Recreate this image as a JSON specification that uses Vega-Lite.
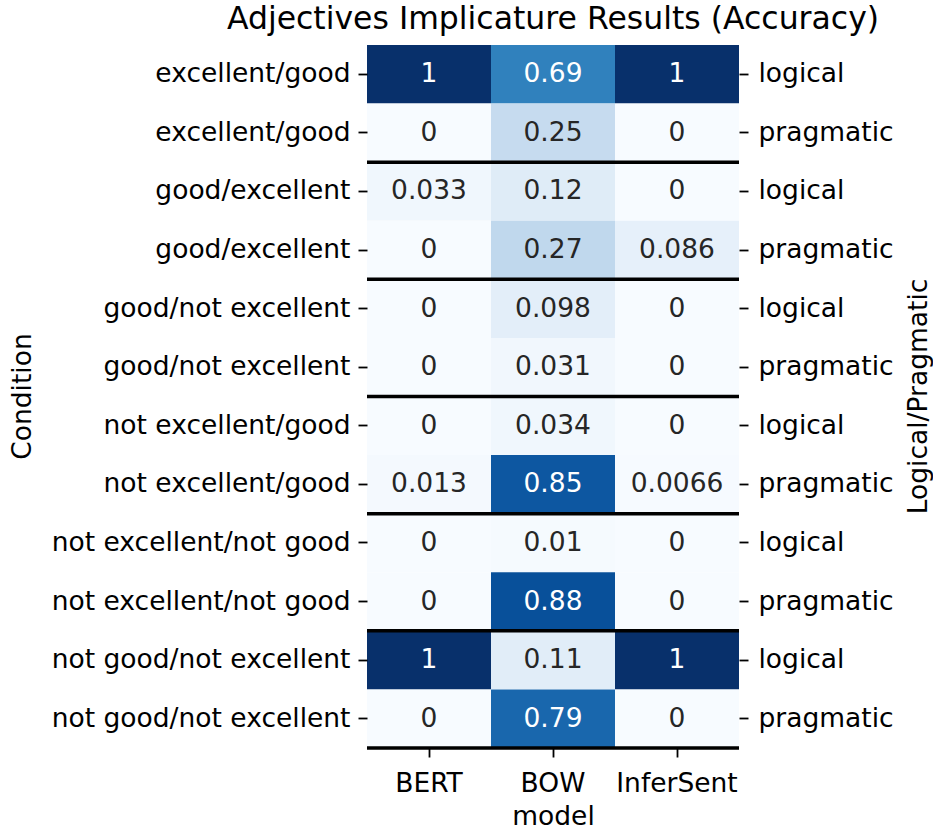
{
  "$schema": "https://vega.github.io/schema/vega-lite/v6.json",
  "autosize": {"type": "none"},
  "padding": {"left": 367, "top": 45, "right": 194, "bottom": 83},
  "width": 372,
  "height": 703,
  "background": "white",
  "config": {
    "font": "DejaVu Sans",
    "view": {"stroke": null},
    "axis": {"labelFont": "DejaVu Sans", "titleFont": "DejaVu Sans", "labelFontSize": 26.5, "titleFontSize": 26.5, "labelColor": "#000000", "titleColor": "#000000", "titleFontWeight": "normal", "tickColor": "#000000", "tickWidth": 1.8, "tickSize": 9, "domain": false, "grid": false, "labelLimit": 500}
  },
  "title": {"text": "Adjectives Implicature Results (Accuracy)", "font": "DejaVu Sans", "fontSize": 31.5, "fontWeight": "normal", "color": "#000000", "offset": 10},
  "datasets": {
    "cells": [
      {"key": "excellent/good|logical", "model": "BERT", "value": 1},
      {"key": "excellent/good|logical", "model": "BOW", "value": 0.69},
      {"key": "excellent/good|logical", "model": "InferSent", "value": 1},
      {"key": "excellent/good|pragmatic", "model": "BERT", "value": 0},
      {"key": "excellent/good|pragmatic", "model": "BOW", "value": 0.25},
      {"key": "excellent/good|pragmatic", "model": "InferSent", "value": 0},
      {"key": "good/excellent|logical", "model": "BERT", "value": 0.033},
      {"key": "good/excellent|logical", "model": "BOW", "value": 0.12},
      {"key": "good/excellent|logical", "model": "InferSent", "value": 0},
      {"key": "good/excellent|pragmatic", "model": "BERT", "value": 0},
      {"key": "good/excellent|pragmatic", "model": "BOW", "value": 0.27},
      {"key": "good/excellent|pragmatic", "model": "InferSent", "value": 0.086},
      {"key": "good/not excellent|logical", "model": "BERT", "value": 0},
      {"key": "good/not excellent|logical", "model": "BOW", "value": 0.098},
      {"key": "good/not excellent|logical", "model": "InferSent", "value": 0},
      {"key": "good/not excellent|pragmatic", "model": "BERT", "value": 0},
      {"key": "good/not excellent|pragmatic", "model": "BOW", "value": 0.031},
      {"key": "good/not excellent|pragmatic", "model": "InferSent", "value": 0},
      {"key": "not excellent/good|logical", "model": "BERT", "value": 0},
      {"key": "not excellent/good|logical", "model": "BOW", "value": 0.034},
      {"key": "not excellent/good|logical", "model": "InferSent", "value": 0},
      {"key": "not excellent/good|pragmatic", "model": "BERT", "value": 0.013},
      {"key": "not excellent/good|pragmatic", "model": "BOW", "value": 0.85},
      {"key": "not excellent/good|pragmatic", "model": "InferSent", "value": 0.0066},
      {"key": "not excellent/not good|logical", "model": "BERT", "value": 0},
      {"key": "not excellent/not good|logical", "model": "BOW", "value": 0.01},
      {"key": "not excellent/not good|logical", "model": "InferSent", "value": 0},
      {"key": "not excellent/not good|pragmatic", "model": "BERT", "value": 0},
      {"key": "not excellent/not good|pragmatic", "model": "BOW", "value": 0.88},
      {"key": "not excellent/not good|pragmatic", "model": "InferSent", "value": 0},
      {"key": "not good/not excellent|logical", "model": "BERT", "value": 1},
      {"key": "not good/not excellent|logical", "model": "BOW", "value": 0.11},
      {"key": "not good/not excellent|logical", "model": "InferSent", "value": 1},
      {"key": "not good/not excellent|pragmatic", "model": "BERT", "value": 0},
      {"key": "not good/not excellent|pragmatic", "model": "BOW", "value": 0.79},
      {"key": "not good/not excellent|pragmatic", "model": "InferSent", "value": 0}
    ],
    "separators": [
      {"key": "excellent/good|pragmatic"},
      {"key": "good/excellent|pragmatic"},
      {"key": "good/not excellent|pragmatic"},
      {"key": "not excellent/good|pragmatic"},
      {"key": "not excellent/not good|pragmatic"},
      {"key": "not good/not excellent|pragmatic"}
    ]
  },
  "layer": [
    {
      "data": {"name": "cells"},
      "mark": {"type": "rect"},
      "encoding": {
        "x": {"field": "model", "type": "nominal", "sort": ["BERT", "BOW", "InferSent"], "scale": {"paddingInner": 0, "paddingOuter": 0},
              "axis": {"orient": "bottom", "title": "model", "labelAngle": 0, "labelPadding": 13, "titlePadding": 7}},
        "y": {"field": "key", "type": "nominal",
              "scale": {"domain": ["excellent/good|logical", "excellent/good|pragmatic", "good/excellent|logical", "good/excellent|pragmatic", "good/not excellent|logical", "good/not excellent|pragmatic", "not excellent/good|logical", "not excellent/good|pragmatic", "not excellent/not good|logical", "not excellent/not good|pragmatic", "not good/not excellent|logical", "not good/not excellent|pragmatic"], "paddingInner": 0, "paddingOuter": 0},
              "axis": {"orient": "left", "title": "Condition", "labelExpr": "split(datum.value, '|')[0]", "labelPadding": 8, "titleX": -345, "titleY": 351, "titleAngle": 270, "titleBaseline": "middle", "titleAlign": "center"}},
        "color": {"field": "value", "type": "quantitative", "legend": null,
                  "scale": {"domain": [0, 0.125, 0.25, 0.375, 0.5, 0.625, 0.75, 0.875, 1], "range": ["#f7fbff", "#deebf7", "#c6dbef", "#9ecae1", "#6baed6", "#4292c6", "#2171b5", "#08519c", "#08306b"]}}
      }
    },
    {
      "data": {"name": "cells"},
      "mark": {"type": "text", "fontSize": 26.5, "font": "DejaVu Sans"},
      "encoding": {
        "x": {"field": "model", "type": "nominal", "sort": ["BERT", "BOW", "InferSent"]},
        "y": {"field": "key", "type": "nominal",
              "scale": {"domain": ["excellent/good|logical", "excellent/good|pragmatic", "good/excellent|logical", "good/excellent|pragmatic", "good/not excellent|logical", "good/not excellent|pragmatic", "not excellent/good|logical", "not excellent/good|pragmatic", "not excellent/not good|logical", "not excellent/not good|pragmatic", "not good/not excellent|logical", "not good/not excellent|pragmatic"], "paddingInner": 0, "paddingOuter": 0},
              "axis": null},
        "text": {"field": "value", "type": "nominal"},
        "color": {"condition": {"test": "datum.value > 0.5", "value": "#ffffff"}, "value": "#262626"}
      }
    },
    {
      "data": {"name": "separators"},
      "mark": {"type": "rule", "color": "#000000", "strokeWidth": 3.5},
      "encoding": {
        "y": {"field": "key", "type": "nominal", "bandPosition": 1,
              "scale": {"domain": ["excellent/good|logical", "excellent/good|pragmatic", "good/excellent|logical", "good/excellent|pragmatic", "good/not excellent|logical", "good/not excellent|pragmatic", "not excellent/good|logical", "not excellent/good|pragmatic", "not excellent/not good|logical", "not excellent/not good|pragmatic", "not good/not excellent|logical", "not good/not excellent|pragmatic"], "paddingInner": 0, "paddingOuter": 0},
              "axis": {"orient": "right", "title": "Logical/Pragmatic", "labelExpr": "split(datum.value, '|')[1]", "labelPadding": 10, "titleX": 179, "titleY": 351, "titleAngle": 270, "titleBaseline": "middle", "titleAlign": "center"}}
      }
    }
  ],
  "resolve": {"scale": {"y": "independent"}, "axis": {"y": "independent"}}
}
